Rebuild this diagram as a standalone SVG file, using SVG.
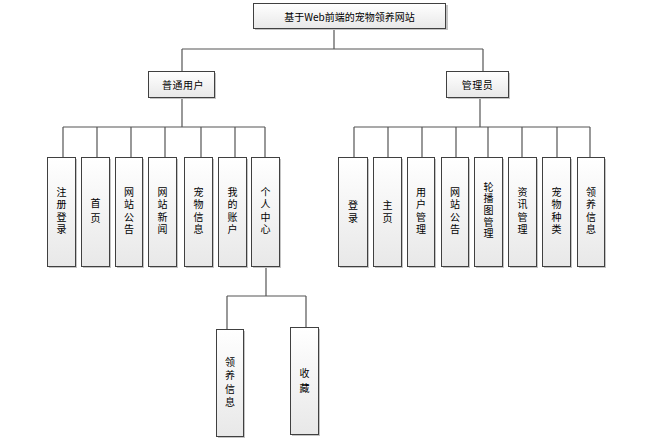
<svg xmlns="http://www.w3.org/2000/svg" width="660" height="439" viewBox="0 0 660 439">
<defs>
<linearGradient id="g" x1="0" y1="0" x2="0" y2="1">
<stop offset="0" stop-color="#ffffff"/>
<stop offset="1" stop-color="#e8e8e8"/>
</linearGradient>
<style>
.sh{fill:#c4c4c4;}
.bx{fill:url(#g);stroke:#404040;stroke-width:1;}
.t{font-family:"Noto Sans CJK SC","Liberation Sans",sans-serif;font-size:10px;fill:#000;text-anchor:middle;dominant-baseline:central;}
.v{font-family:"Noto Sans CJK SC","Liberation Sans",sans-serif;font-size:10px;fill:#000;text-anchor:middle;writing-mode:vertical-rl;text-orientation:upright;letter-spacing:2.5px;}
.c{fill:none;stroke:#555;stroke-width:1.2;}
</style>
</defs>
<rect width="660" height="439" fill="#fff"/>
<g id="connectors">
<path class="c" d="M334 28V49M182 49H483M182 49V71M483 49V71"/>
<path class="c" d="M182 97V127M63 127H265M63 127V157M97 127V157M131 127V157M165 127V157M201 127V157M235 127V157M265 127V157"/>
<path class="c" d="M480 97V127M354 127H590M354 127V157M388 127V157M422 127V157M456 127V157M488 127V157M522 127V157M557 127V157M590 127V157"/>
<path class="c" d="M266 266V296M227 296H306M227 296V329M306 296V327"/>
</g>
<g id="root"><rect class="sh" x="255" y="5" width="193" height="25"/><rect class="bx" x="253.5" y="3.5" width="192" height="25"/><text class="t" x="349.5" y="16">基于Web前端的宠物领养网站</text></g>
<g id="user"><rect class="sh" x="150" y="73" width="66" height="26"/><rect class="bx" x="148.5" y="71.5" width="66" height="26"/><text class="t" x="183" y="84" letter-spacing="0.5">普通用户</text></g>
<g id="admin"><rect class="sh" x="448" y="73" width="62" height="26"/><rect class="bx" x="446.5" y="71.5" width="62" height="26"/><text class="t" x="477.5" y="84" letter-spacing="0.5">管理员</text></g>

<g id="u1"><rect class="sh" x="49" y="159" width="28" height="109"/><rect class="bx" x="47.5" y="157.5" width="28" height="109"/><text class="v" x="61.5" y="212">注册登录</text></g>
<g id="u2"><rect class="sh" x="83" y="159" width="28" height="109"/><rect class="bx" x="81.5" y="157.5" width="28" height="109"/><text class="v" x="95.5" y="213" style="letter-spacing:4.5px">首页</text></g>
<g id="u3"><rect class="sh" x="117" y="159" width="27" height="109"/><rect class="bx" x="115.5" y="157.5" width="27" height="109"/><text class="v" x="129" y="212">网站公告</text></g>
<g id="u4"><rect class="sh" x="150" y="159" width="28" height="109"/><rect class="bx" x="148.5" y="157.5" width="28" height="109"/><text class="v" x="162.5" y="212">网站新闻</text></g>
<g id="u5"><rect class="sh" x="186" y="159" width="28" height="109"/><rect class="bx" x="184.5" y="157.5" width="28" height="109"/><text class="v" x="198.5" y="212">宠物信息</text></g>
<g id="u6"><rect class="sh" x="220" y="159" width="28" height="109"/><rect class="bx" x="218.5" y="157.5" width="28" height="109"/><text class="v" x="232.5" y="212">我的账户</text></g>
<g id="u7"><rect class="sh" x="253" y="159" width="28" height="109"/><rect class="bx" x="251.5" y="157.5" width="28" height="109"/><text class="v" x="265.5" y="212">个人中心</text></g>

<g id="a1"><rect class="sh" x="340" y="159" width="29" height="109"/><rect class="bx" x="338.5" y="157.5" width="29" height="109"/><text class="v" x="353" y="213.5" style="letter-spacing:3.5px">登录</text></g>
<g id="a2"><rect class="sh" x="375" y="159" width="28" height="109"/><rect class="bx" x="373.5" y="157.5" width="28" height="109"/><text class="v" x="387.5" y="213.5" style="letter-spacing:3px">主页</text></g>
<g id="a3"><rect class="sh" x="409" y="159" width="27" height="109"/><rect class="bx" x="407.5" y="157.5" width="27" height="109"/><text class="v" x="421" y="212">用户管理</text></g>
<g id="a4"><rect class="sh" x="443" y="159" width="27" height="109"/><rect class="bx" x="441.5" y="157.5" width="27" height="109"/><text class="v" x="455" y="212">网站公告</text></g>
<g id="a5"><rect class="sh" x="476" y="159" width="28" height="109"/><rect class="bx" x="474.5" y="157.5" width="28" height="109"/><text class="v" x="488.5" y="211" style="letter-spacing:1.6px">轮播图管理</text></g>
<g id="a6"><rect class="sh" x="510" y="159" width="28" height="109"/><rect class="bx" x="508.5" y="157.5" width="28" height="109"/><text class="v" x="522.5" y="212">资讯管理</text></g>
<g id="a7"><rect class="sh" x="544" y="159" width="28" height="109"/><rect class="bx" x="542.5" y="157.5" width="28" height="109"/><text class="v" x="556.5" y="212">宠物种类</text></g>
<g id="a8"><rect class="sh" x="579" y="159" width="27" height="109"/><rect class="bx" x="577.5" y="157.5" width="27" height="109"/><text class="v" x="591" y="212">领养信息</text></g>

<g id="c1"><rect class="sh" x="218" y="331" width="27" height="107"/><rect class="bx" x="216.5" y="329.5" width="27" height="107"/><text class="v" x="230" y="384" style="letter-spacing:3.3px">领养信息</text></g>
<g id="c2"><rect class="sh" x="292" y="329" width="28" height="107"/><rect class="bx" x="290.5" y="327.5" width="28" height="107"/><text class="v" x="304.5" y="383" style="letter-spacing:5px">收藏</text></g>
</svg>
